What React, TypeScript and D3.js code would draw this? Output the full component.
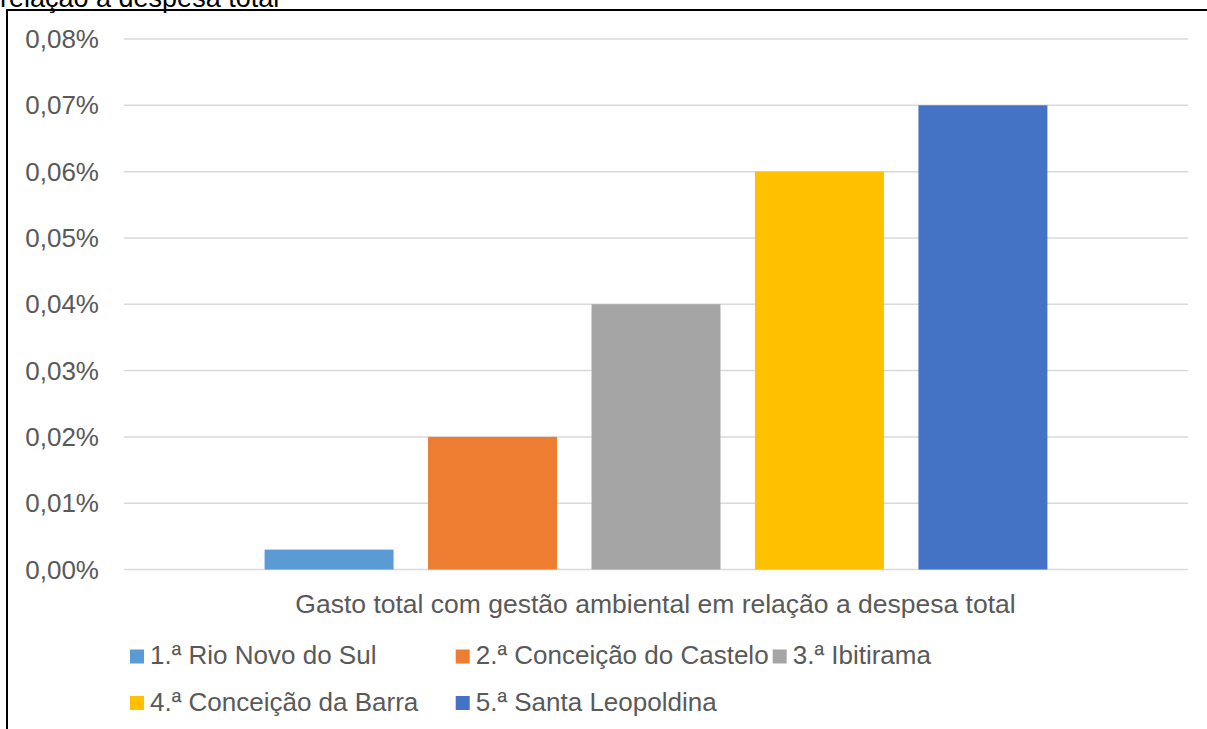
import { useRef, useEffect } from 'react';
import * as d3 from 'd3';

// data (values in %)
const category = 'Gasto total com gestão ambiental em relação a despesa total';
const seriesNames = [
  '1.ª Rio Novo do Sul',
  '2.ª Conceição do Castelo',
  '3.ª Ibitirama',
  '4.ª Conceição da Barra',
  '5.ª Santa Leopoldina',
];
const seriesValues = [0.003, 0.02, 0.04, 0.06, 0.07];
const seriesColors = ['#5B9BD5', '#ED7D31', '#A5A5A5', '#FFC000', '#4472C4'];
const yTicks = [0, 0.01, 0.02, 0.03, 0.04, 0.05, 0.06, 0.07, 0.08];
const headerText = 'relação à despesa total';

const W = 1207;
const H = 729;
const FONT = '"Liberation Sans", Arial, sans-serif';

const App = () => {
  const svgRef = useRef<SVGSVGElement>(null);

  useEffect(() => {
    const svg = d3.select(svgRef.current);
    svg.selectAll('*').remove();

    const plot = { left: 124, right: 1188, top: 39, bottom: 569.5 };

    const x = d3.scaleBand<string>()
      .domain(seriesNames)
      .range([plot.left, plot.right])
      .paddingInner(0.211)
      .paddingOuter(0.86);

    const y = d3.scaleLinear()
      .domain([0, 0.08])
      .range([plot.bottom, plot.top]);

    const fmt = (d: number) => d.toFixed(2).replace('.', ',') + '%';

    // heading of the page, cut off at the top like in the source
    svg.append('text')
      .attr('x', 0)
      .attr('y', 7)
      .attr('font-size', 27)
      .attr('fill', '#000')
      .text(headerText);

    // frame (top + left edges visible)
    svg.append('path')
      .attr('d', `M7,${H}V10H${W}`)
      .attr('fill', 'none')
      .attr('stroke', '#000')
      .attr('stroke-width', 2);

    // gridlines
    svg.append('g')
      .selectAll('line')
      .data(yTicks)
      .join('line')
      .attr('x1', plot.left)
      .attr('x2', plot.right)
      .attr('y1', d => y(d))
      .attr('y2', d => y(d))
      .attr('stroke', '#D9D9D9')
      .attr('stroke-width', 1.5);

    // y tick labels
    svg.append('g')
      .selectAll('text')
      .data(yTicks)
      .join('text')
      .attr('x', 99)
      .attr('y', d => y(d))
      .attr('dy', '0.35em')
      .attr('text-anchor', 'end')
      .attr('font-size', 26)
      .attr('fill', '#595959')
      .text(fmt);

    // bars
    svg.append('g')
      .selectAll('rect')
      .data(seriesValues)
      .join('rect')
      .attr('x', (_, i) => x(seriesNames[i])!)
      .attr('width', x.bandwidth())
      .attr('y', d => y(d))
      .attr('height', d => y(0) - y(d))
      .attr('fill', (_, i) => seriesColors[i]);

    // category label
    svg.append('text')
      .attr('x', 655.5)
      .attr('y', 613)
      .attr('text-anchor', 'middle')
      .attr('font-size', 26.5)
      .attr('fill', '#595959')
      .text(category);

    // legend
    const legendPos = [
      [130, 664], [455.7, 664], [772.7, 664],
      [130, 710.5], [455.7, 710.5],
    ];
    const legend = svg.append('g')
      .selectAll('g')
      .data(seriesNames)
      .join('g')
      .attr('transform', (_, i) => `translate(${legendPos[i][0]},${legendPos[i][1]})`);

    legend.append('rect')
      .attr('x', 0)
      .attr('y', -14.5)
      .attr('width', 14)
      .attr('height', 14)
      .attr('fill', (_, i) => seriesColors[i]);

    legend.append('text')
      .attr('x', 20)
      .attr('y', 0)
      .attr('font-size', 26)
      .attr('fill', '#595959')
      .text(d => d);
  }, []);

  return (
    <svg
      ref={svgRef}
      width={W}
      height={H}
      style={{ position: 'absolute', left: 0, top: 0, background: '#fff', fontFamily: FONT }}
    />
  );
};

export default App;
